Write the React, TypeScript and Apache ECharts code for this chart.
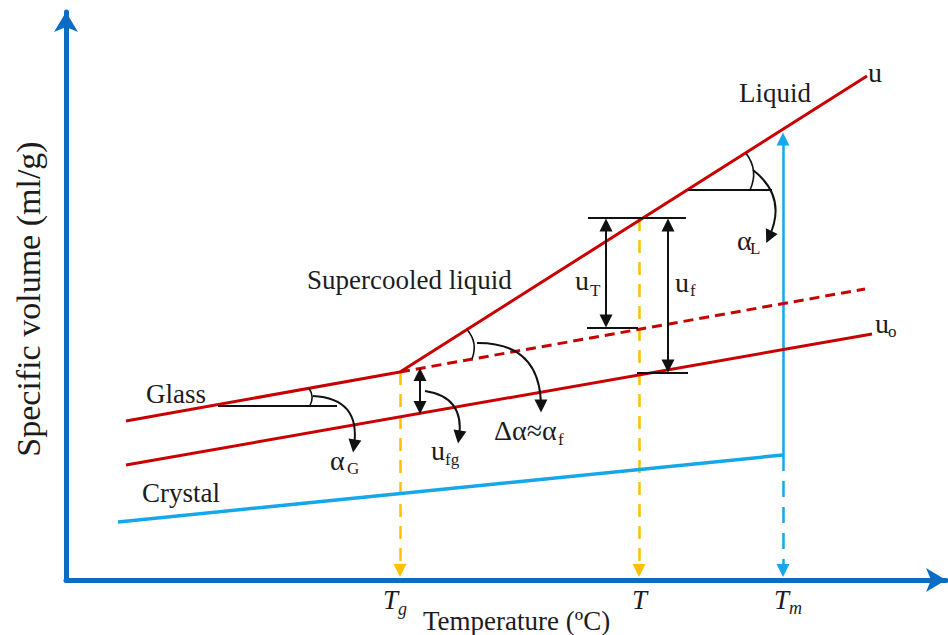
import React, { useEffect, useRef } from "react";
import * as echarts from "echarts";

// Schematic units: x = temperature, y = specific volume
const X_RANGE = [0, 880];
const Y_RANGE = [0, 568];

// Main curves
const glassLine = [[60, 159], [334, 208]];
const supercooledLiquidLine = [[334, 208], [801, 504]];
const glassExtension = [[334, 208], [799, 291]];
const equilibriumLine = [[60, 115], [806, 246]];
const crystalLine = [[52, 58], [717, 125]];

// Characteristic temperatures (x) and where their drop lines start (y)
const Tg = 334;
const T = 573;
const Tm = 717;
const TgTop = 208;
const TTop = 362;
const TmCrystal = 125;
const TmLiquid = 441;
const axisFoot = 9.5;

// Black reference bars
const refBars = [
  [[152, 174.5], [271, 174.5]],
  [[622, 390], [706, 390]],
  [[522, 362], [620, 362]],
  [[521, 252], [572, 252]],
  [[571, 207], [622, 207]],
];
// Double arrows (u_T, u_f, u_fg)
const doubleArrows = [
  [[540, 355], [540, 259]],
  [[602, 355], [602, 214]],
  [[354, 205.5], [354, 172.5]],
];
// Curved pointer arrows: [from, to, curveness]
const curvedArrows: [number[], number[], number][] = [
  [[247, 184], [288, 134], 0.55],
  [[359, 189], [393, 143], 0.5],
  [[411, 237], [475, 174], 0.5],
  [[687, 410], [703, 343], 0.4],
];
// Angle arcs
const angleArcs: [number[], number[], number][] = [
  [[243, 191.7], [244, 174.5], 0.3],
  [[401, 250.4], [406, 221], 0.3],
  [[680, 426.7], [684, 390], 0.3],
];

// Text labels (positions in schematic units)
const wordLabels = [
  { text: "Glass", at: [80, 186] },
  { text: "Crystal", at: [76, 87] },
  { text: "Supercooled liquid", at: [241, 300] },
  { text: "Liquid", at: [673, 487] },
  { text: "Temperature (ºC)", at: [357, -41] },
];
const symbolLabels = [
  { main: "u", at: [802, 507.5], sub: "", subAt: [0, 0] },
  { main: "u", at: [809, 256.5], sub: "o", subAt: [822, 248.7] },
  { main: "α", at: [264, 119.5], sub: "G", subAt: [281, 111.7] },
  { main: "u", at: [365, 129.5], sub: "fg", subAt: [379, 120.7] },
  { main: "Δα≈α", at: [428, 149.5], sub: "f", subAt: [492, 140.7] },
  { main: "u", at: [509, 299.5], sub: "T", subAt: [524, 289.5] },
  { main: "u", at: [609, 297.5], sub: "f", subAt: [624, 289.5] },
  { main: "α", at: [671, 339.5], sub: "L", subAt: [684, 331.5] },
];
const tempLabels = [
  { main: "T", at: [317, -20], sub: "g", subAt: [332, -29] },
  { main: "T", at: [566, -20], sub: "", subAt: [0, 0] },
  { main: "T", at: [708, -20], sub: "m", subAt: [723, -28] },
];
const yTitle = { text: "Specific volume (ml/g)", at: [-38, 281] };

const RED = "#c80000";
const CRYSTAL_BLUE = "#14a8ea";
const AXIS_BLUE = "#0a6cc4";
const YELLOW = "#ffc000";
const BLACK = "#111111";
const TEXT = "#1c1c1c";
const FONT = '"Liberation Serif", "Times New Roman", serif';

export default function App() {
  const ref = useRef<HTMLDivElement>(null);

  useEffect(() => {
    if (!ref.current) return;
    const chart = echarts.init(ref.current, undefined, { renderer: "svg" });

    const axisCommon = {
      type: "value" as const,
      axisTick: { show: false },
      axisLabel: { show: false },
      splitLine: { show: false },
    };

    const redLine = (name: string, data: number[][], dashed = false) => ({
      name,
      type: "line",
      data,
      symbol: "none",
      z: 5,
      lineStyle: { color: RED, width: 3, type: dashed ? [10, 6] : "solid" },
    });

    chart.setOption({
      animation: false,
      backgroundColor: "#ffffff",
      grid: { left: 66, right: 2, top: 12, bottom: 55 },
      xAxis: {
        ...axisCommon,
        min: X_RANGE[0],
        max: X_RANGE[1],
        axisLine: {
          show: true,
          onZero: false,
          symbol: ["none", "arrow"],
          symbolSize: [18, 20],
          lineStyle: { color: AXIS_BLUE, width: 5 },
        },
      },
      yAxis: {
        ...axisCommon,
        min: Y_RANGE[0],
        max: Y_RANGE[1],
        axisLine: {
          show: true,
          onZero: false,
          symbol: ["none", "arrow"],
          symbolSize: [18, 20],
          lineStyle: { color: AXIS_BLUE, width: 5 },
        },
      },
      series: [
        {
          name: "drop lines",
          type: "lines",
          coordinateSystem: "cartesian2d",
          symbol: ["none", "triangle"],
          symbolSize: 13,
          z: 2,
          lineStyle: { color: YELLOW, width: 2.5, type: [13, 9], opacity: 1 },
          data: [
            { coords: [[Tg, TgTop], [Tg, axisFoot]] },
            { coords: [[T, TTop], [T, axisFoot]] },
          ],
        },
        {
          name: "Tm dashed",
          type: "lines",
          coordinateSystem: "cartesian2d",
          symbol: ["none", "triangle"],
          symbolSize: 13,
          z: 2,
          lineStyle: { color: CRYSTAL_BLUE, width: 2.5, type: [16, 10], opacity: 1 },
          data: [{ coords: [[Tm, TmCrystal], [Tm, axisFoot]] }],
        },
        {
          name: "Tm solid",
          type: "lines",
          coordinateSystem: "cartesian2d",
          symbol: ["none", "triangle"],
          symbolSize: 13,
          z: 2,
          lineStyle: { color: CRYSTAL_BLUE, width: 2.5, opacity: 1 },
          data: [{ coords: [[Tm, TmCrystal], [Tm, TmLiquid]] }],
        },
        redLine("Glass", glassLine),
        redLine("Supercooled liquid", supercooledLiquidLine),
        redLine("Extrapolated glass", glassExtension, true),
        redLine("u_o", equilibriumLine),
        {
          name: "Crystal",
          type: "line",
          data: crystalLine,
          symbol: "none",
          z: 5,
          lineStyle: { color: CRYSTAL_BLUE, width: 3.5 },
        },
        {
          name: "bars",
          type: "lines",
          coordinateSystem: "cartesian2d",
          symbol: "none",
          z: 6,
          lineStyle: { color: BLACK, width: 2, opacity: 1 },
          data: refBars.map((c) => ({ coords: c })),
        },
        {
          name: "double arrows",
          type: "lines",
          coordinateSystem: "cartesian2d",
          symbol: ["triangle", "triangle"],
          symbolSize: 13,
          z: 6,
          lineStyle: { color: BLACK, width: 2, opacity: 1 },
          data: doubleArrows.map((c) => ({ coords: c })),
        },
        {
          name: "curved arrows",
          type: "lines",
          coordinateSystem: "cartesian2d",
          symbol: ["none", "triangle"],
          symbolSize: 13,
          z: 6,
          lineStyle: { color: BLACK, width: 2, opacity: 1 },
          data: curvedArrows.map(([a, b, c]) => ({
            coords: [a, b],
            lineStyle: { curveness: c },
          })),
        },
        {
          name: "arcs",
          type: "lines",
          coordinateSystem: "cartesian2d",
          symbol: "none",
          z: 6,
          lineStyle: { color: BLACK, width: 1.6, opacity: 1 },
          data: angleArcs.map(([a, b, c]) => ({
            coords: [a, b],
            lineStyle: { curveness: c },
          })),
        },
      ],
    });

    const px = (p: number[]) => chart.convertToPixel({ gridIndex: 0 }, p) as number[];
    const text = (
      t: string,
      p: number[],
      size: number,
      italic = false,
      extra: any = {}
    ) => {
      const [x, y] = px(p);
      return {
        type: "text",
        x,
        y,
        silent: true,
        z: 10,
        ...extra,
        style: {
          text: t,
          fill: TEXT,
          fontSize: size,
          fontFamily: FONT,
          fontStyle: italic ? "italic" : "normal",
          align: extra.align || "left",
          verticalAlign: "middle",
        },
      };
    };

    const elements: any[] = [];
    wordLabels.forEach((l) => elements.push(text(l.text, l.at, 27)));
    symbolLabels.forEach((l) => {
      elements.push(text(l.main, l.at, 28));
      if (l.sub) elements.push(text(l.sub, l.subAt, 17));
    });
    tempLabels.forEach((l) => {
      elements.push(text(l.main, l.at, 27, true));
      if (l.sub) elements.push(text(l.sub, l.subAt, 18, true));
    });
    elements.push(
      text(yTitle.text, yTitle.at, 34, false, { rotation: Math.PI / 2, align: "center" })
    );

    chart.setOption({ graphic: { elements } });

    return () => chart.dispose();
  }, []);

  return (
    <div
      ref={ref}
      style={{
        position: "fixed",
        left: 0,
        top: 0,
        width: 948,
        height: 635,
        background: "#fff",
      }}
    />
  );
}
